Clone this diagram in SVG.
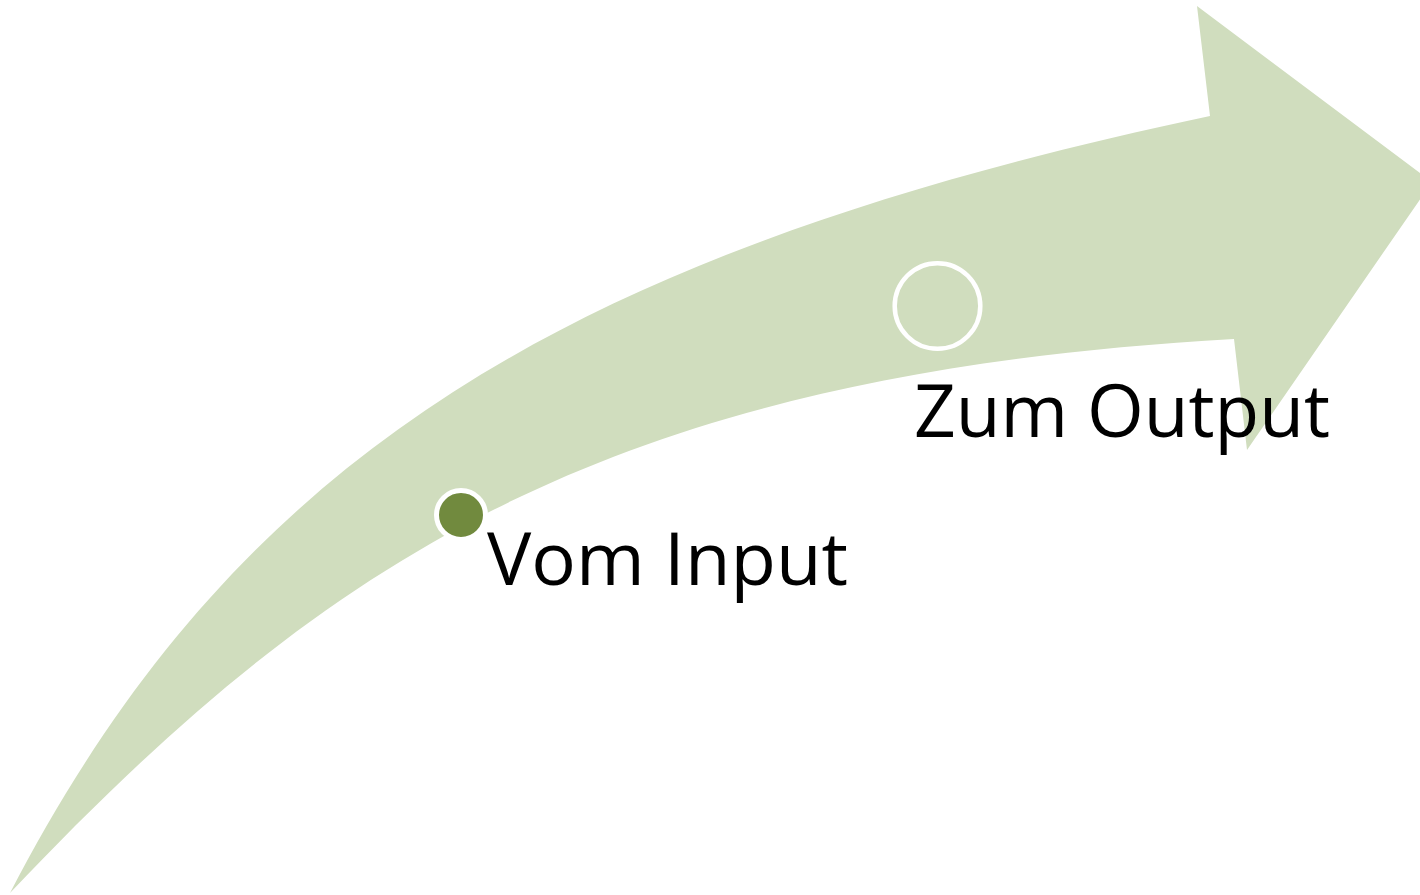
<svg xmlns="http://www.w3.org/2000/svg" width="1420" height="895" viewBox="0 0 1420 895">
  <style>
    .arrow { fill: #d0ddbe; stroke: none; }
    .ring { stroke: #ffffff; }
    .label { font-family: "Open Sans", "Liberation Sans", sans-serif; font-size: 74px; fill: #000000; }
  </style>
  <rect width="1420" height="895" fill="#ffffff"/>
  <g id="arrow">
    <path class="arrow" d="M10,893 C238,453 570,252 1210,116 L1197,6 L1432,182 L1247,450 L1234,339 C600,375 323,563 10,893 Z"/>
  </g>
  <g id="connectors"></g>
  <g id="node-input">
    <circle class="ring" cx="461" cy="515" r="24.5" fill="#718a3e" stroke-width="5"/>
    <text class="label" x="487" y="585" textLength="361" lengthAdjust="spacingAndGlyphs">Vom Input</text>
  </g>
  <g id="node-output">
    <circle class="ring" cx="937.5" cy="306" r="42.8" fill="#d0ddbe" stroke-width="4.5"/>
    <text class="label" x="914" y="437" textLength="416" lengthAdjust="spacingAndGlyphs">Zum Output</text>
  </g>
</svg>
